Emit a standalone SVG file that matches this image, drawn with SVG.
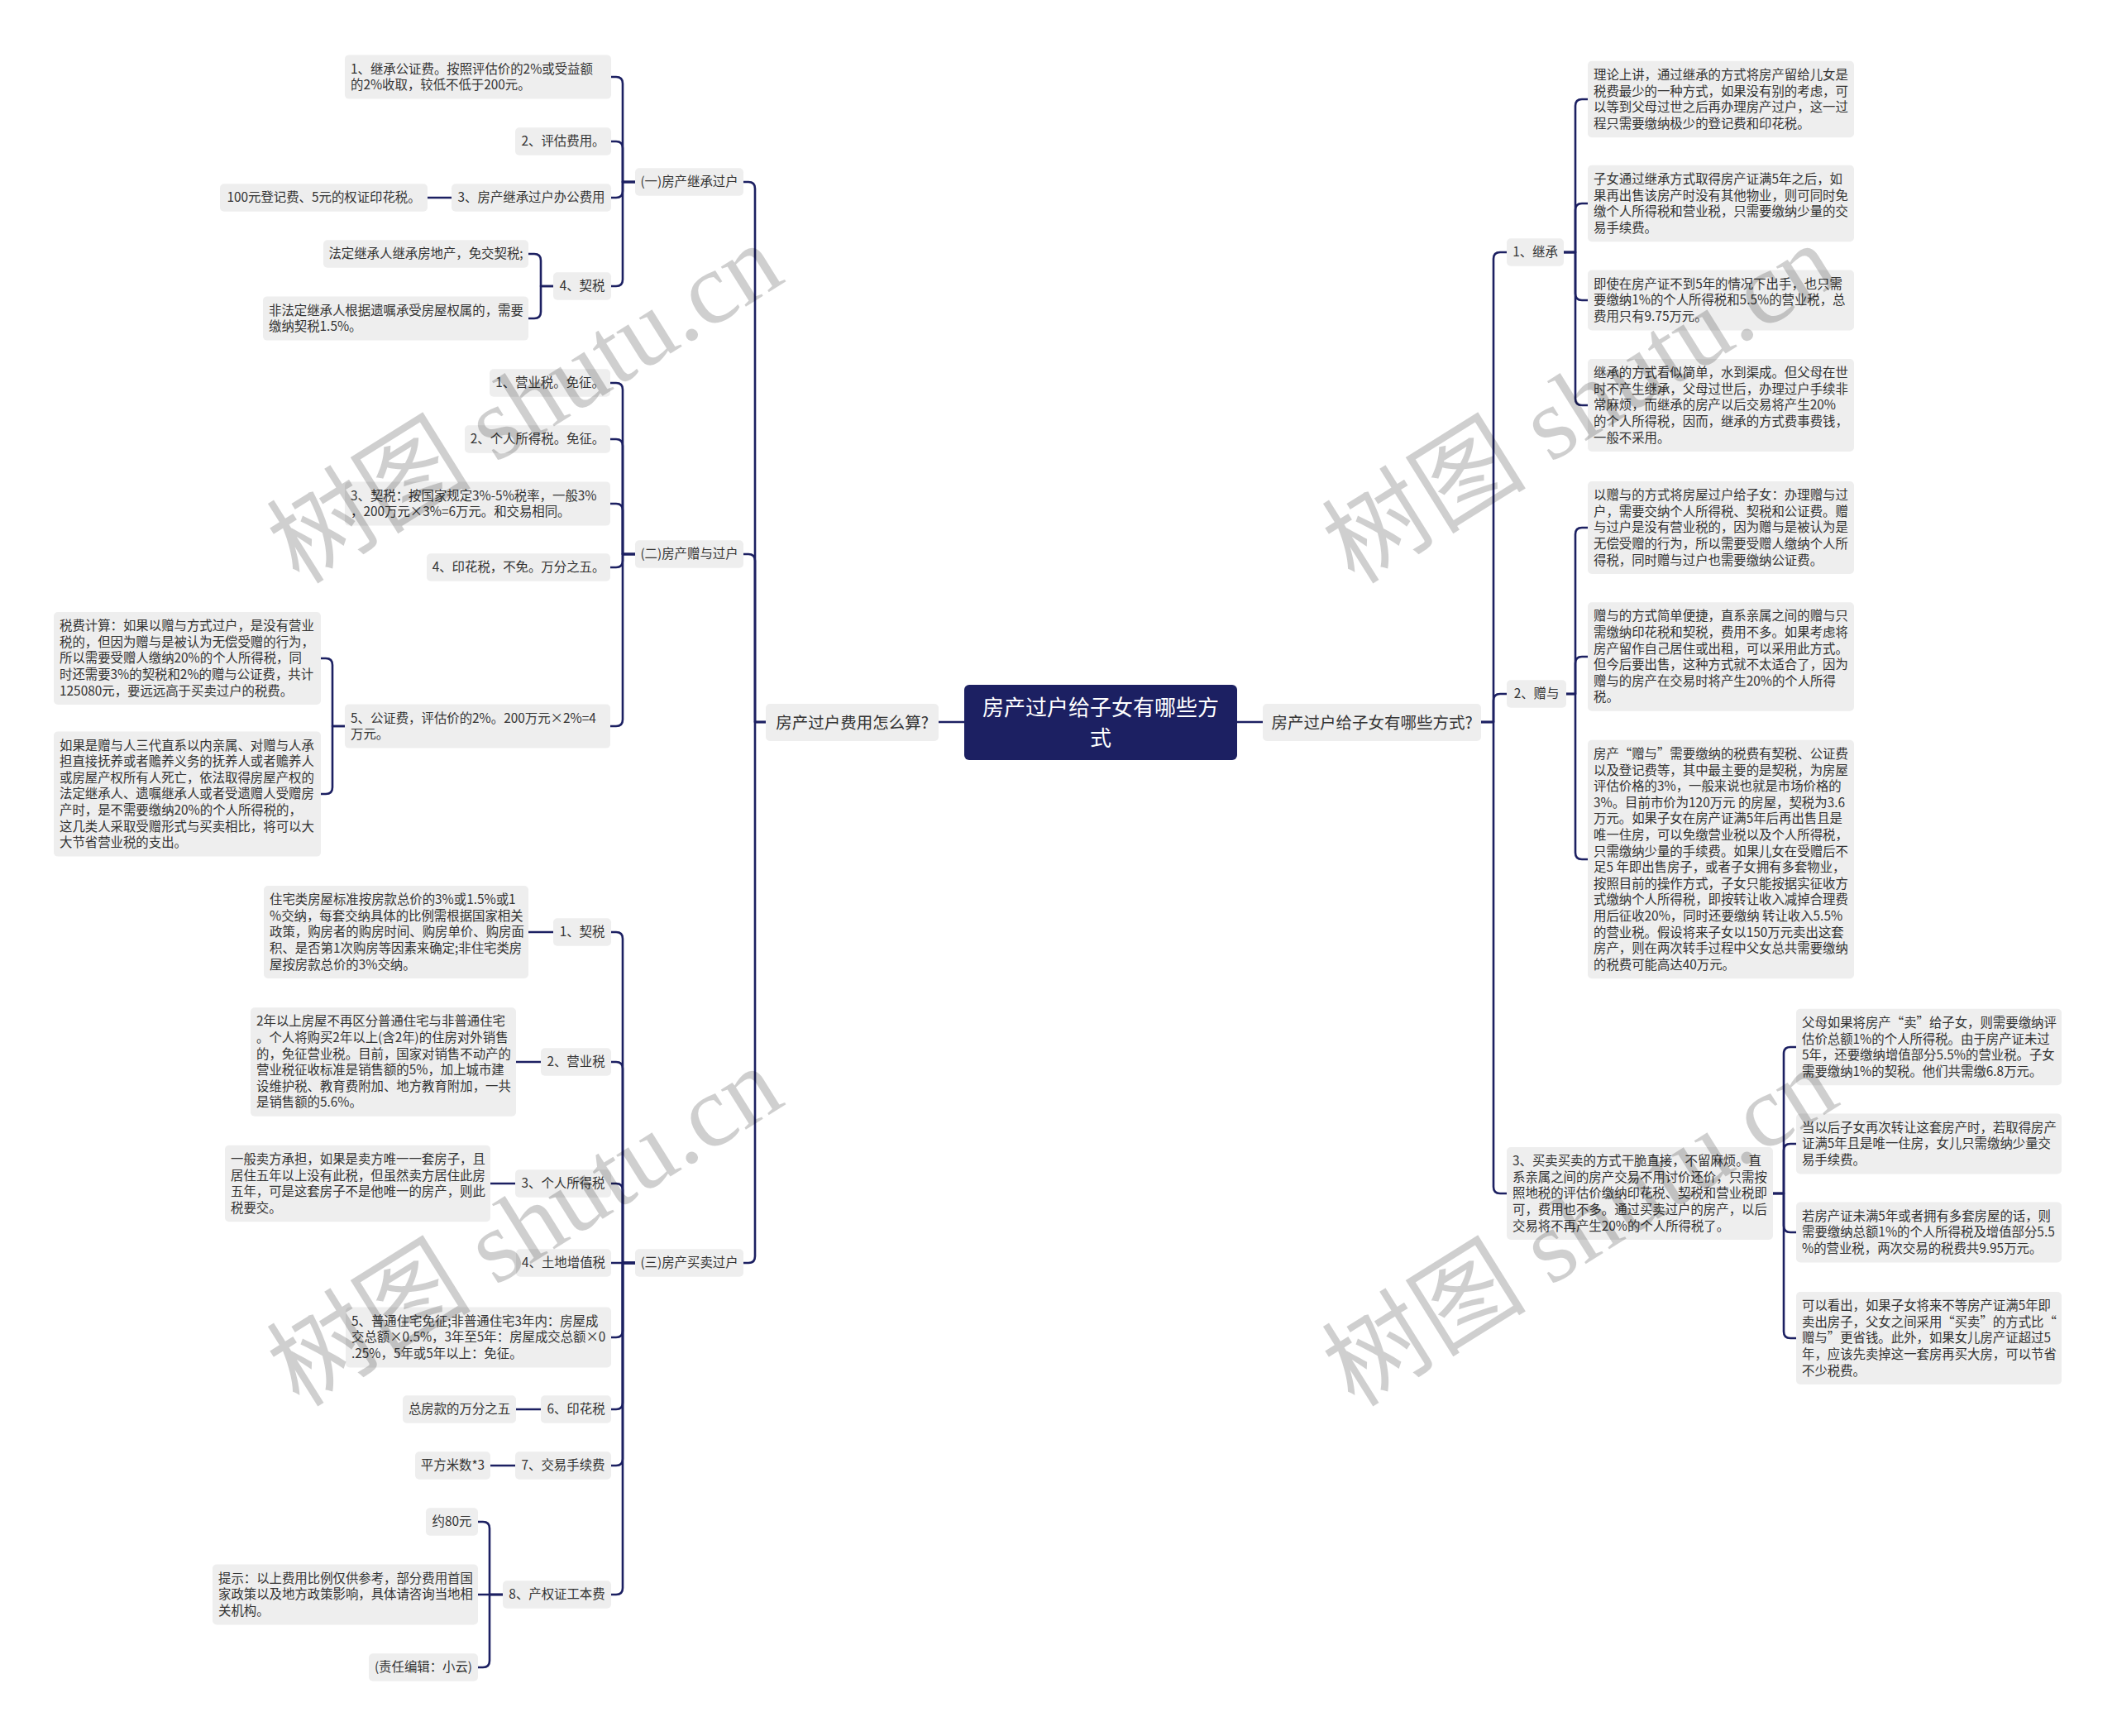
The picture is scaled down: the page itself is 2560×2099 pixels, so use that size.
<svg xmlns="http://www.w3.org/2000/svg" width="2560" height="2099" viewBox="0 0 2560 2099">
<style>
.bg{fill:#ffffff}
.n rect{fill:#eeeeee}
.n text{font-family:"Noto Sans CJK SC","Liberation Sans",sans-serif;font-size:15.4px;fill:#333333}
.c{text-anchor:middle}
.l1 rect{fill:#eeeeee}
.l1 text{font-family:"Noto Sans CJK SC","Liberation Sans",sans-serif;font-size:19.5px;fill:#333333;text-anchor:middle}
.root rect{fill:#1c2062}
.root text{font-family:"Noto Sans CJK SC","Liberation Sans",sans-serif;font-size:26px;fill:#ffffff;text-anchor:middle}
#links path{fill:none;stroke:#1c2062;stroke-width:2.6;stroke-linecap:round;stroke-linejoin:round}
.wm{font-family:"Liberation Serif","Noto Sans CJK SC",serif;font-size:124px;fill:#000000;fill-opacity:0.19}
</style>
<rect class="bg" x="0" y="0" width="2560" height="2099"/>
<g id="links">
<path d="M1166 873 H1135"/>
<path d="M1496 873 H1527"/>
<path d="M926 873 H913 V228 Q913 220 905 220 H899"/>
<path d="M926 873 H913 V678 Q913 670 905 670 H899"/>
<path d="M926 873 H913 V1519 Q913 1527 905 1527 H899"/>
<path d="M768 220 H753 V101 Q753 93 745 93 H739"/>
<path d="M768 220 H753 V179 Q753 171 745 171 H739"/>
<path d="M768 220 H753 V231 Q753 239 745 239 H739"/>
<path d="M768 220 H753 V338 Q753 346 745 346 H739"/>
<path d="M546 239 H517"/>
<path d="M669 346 H654 V315 Q654 307 646 307 H639"/>
<path d="M669 346 H654 V377 Q654 385 646 385 H639"/>
<path d="M768 670 H753 V471 Q753 463 745 463 H738"/>
<path d="M768 670 H753 V539 Q753 531 745 531 H738"/>
<path d="M768 670 H753 V617 Q753 609 745 609 H738"/>
<path d="M768 670 H753 V678 Q753 686 745 686 H738"/>
<path d="M768 670 H753 V870 Q753 878 745 878 H738"/>
<path d="M417 878 H402 V804 Q402 796 394 796 H388"/>
<path d="M417 878 H402 V952 Q402 960 394 960 H388"/>
<path d="M768 1527 H753 V1135 Q753 1127 745 1127 H739"/>
<path d="M768 1527 H753 V1292 Q753 1284 745 1284 H739"/>
<path d="M768 1527 H753 V1439 Q753 1431 745 1431 H739"/>
<path d="M768 1527 H739"/>
<path d="M768 1527 H753 V1609 Q753 1617 745 1617 H739"/>
<path d="M768 1527 H753 V1696 Q753 1704 745 1704 H739"/>
<path d="M768 1527 H753 V1764 Q753 1772 745 1772 H739"/>
<path d="M768 1527 H753 V1920 Q753 1928 745 1928 H739"/>
<path d="M669 1127 H639"/>
<path d="M654 1284 H624"/>
<path d="M623 1431 H593"/>
<path d="M654 1704 H624"/>
<path d="M623 1772 H593"/>
<path d="M608 1928 H592 V1848 Q592 1840 584 1840 H578"/>
<path d="M608 1928 H578"/>
<path d="M608 1928 H592 V2008 Q592 2016 584 2016 H578"/>
<path d="M1791 873 H1806 V313 Q1806 305 1814 305 H1822"/>
<path d="M1791 873 H1806 V847 Q1806 839 1814 839 H1822"/>
<path d="M1791 873 H1806 V1435 Q1806 1443 1814 1443 H1822"/>
<path d="M1891 305 H1905 V128 Q1905 120 1913 120 H1920"/>
<path d="M1891 305 H1905 V254 Q1905 246 1913 246 H1920"/>
<path d="M1891 305 H1905 V355 Q1905 363 1913 363 H1920"/>
<path d="M1891 305 H1905 V482 Q1905 490 1913 490 H1920"/>
<path d="M1894 839 H1905 V646 Q1905 638 1913 638 H1920"/>
<path d="M1894 839 H1905 V802 Q1905 794 1913 794 H1920"/>
<path d="M1894 839 H1905 V1031 Q1905 1039 1913 1039 H1920"/>
<path d="M2144 1443 H2157 V1274 Q2157 1266 2165 1266 H2172"/>
<path d="M2144 1443 H2157 V1391 Q2157 1383 2165 1383 H2172"/>
<path d="M2144 1443 H2157 V1482 Q2157 1490 2165 1490 H2172"/>
<path d="M2144 1443 H2157 V1610 Q2157 1618 2165 1618 H2172"/>
</g>

<g id="root" class="root"><rect x="1166" y="828" width="330" height="91" rx="6"/><text x="1331" y="864.6">房产过户给子女有哪些方</text><text x="1331" y="901.6">式</text></g>
<g id="l1-left" class="l1"><rect x="926" y="851" width="209" height="45" rx="5"/><text x="1030.5" y="880.5">房产过户费用怎么算?</text></g>
<g id="l1-right" class="l1"><rect x="1527" y="851" width="264" height="45" rx="5"/><text x="1659" y="880.5">房产过户给子女有哪些方式?</text></g>

<g id="n-yi" class="n"><rect x="768" y="203.2" width="131" height="33.6" rx="5"/><text class="c" x="833.5" y="225.4">(一)房产继承过户</text></g>
<g id="n-er" class="n"><rect x="768" y="653.2" width="131" height="33.6" rx="5"/><text class="c" x="833.5" y="675.4">(二)房产赠与过户</text></g>
<g id="n-san" class="n"><rect x="768" y="1510.2" width="131" height="33.6" rx="5"/><text class="c" x="833.5" y="1532.4">(三)房产买卖过户</text></g>

<g id="a1" class="n"><rect x="417" y="66.4" width="322" height="53.2" rx="5"/><text x="424" y="88.6">1、继承公证费。按照评估价的2%或受益额<tspan x="424" dy="19.6">的2%收取，较低不低于200元。</tspan></text></g>
<g id="a2" class="n"><rect x="623" y="154.2" width="116" height="33.6" rx="5"/><text class="c" x="681" y="176.4">2、评估费用。</text></g>
<g id="a3" class="n"><rect x="546" y="222.2" width="193" height="33.6" rx="5"/><text class="c" x="642.5" y="244.4">3、房产继承过户办公费用</text></g>
<g id="a3a" class="n"><rect x="266" y="222.2" width="251" height="33.6" rx="5"/><text class="c" x="391.5" y="244.4">100元登记费、5元的权证印花税。</text></g>
<g id="a4" class="n"><rect x="669" y="329.2" width="70" height="33.6" rx="5"/><text class="c" x="704" y="351.4">4、契税</text></g>
<g id="a4a" class="n"><rect x="391" y="290.2" width="248" height="33.6" rx="5"/><text class="c" x="515" y="312.4">法定继承人继承房地产，免交契税;</text></g>
<g id="a4b" class="n"><rect x="318" y="358.4" width="321" height="53.2" rx="5"/><text x="325" y="380.6">非法定继承人根据遗嘱承受房屋权属的，需要<tspan x="325" dy="19.6">缴纳契税1.5%。</tspan></text></g>

<g id="b1" class="n"><rect x="592" y="446.2" width="146" height="33.6" rx="5"/><text class="c" x="665" y="468.4">1、营业税。免征。</text></g>
<g id="b2" class="n"><rect x="562" y="514.2" width="176" height="33.6" rx="5"/><text class="c" x="650" y="536.4">2、个人所得税。免征。</text></g>
<g id="b3" class="n"><rect x="417" y="582.4" width="321" height="53.2" rx="5"/><text x="424" y="604.6">3、契税：按国家规定3%-5%税率，一般3%<tspan x="424" dy="19.6">，200万元×3%=6万元。和交易相同。</tspan></text></g>
<g id="b4" class="n"><rect x="516" y="669.2" width="222" height="33.6" rx="5"/><text class="c" x="627" y="691.4">4、印花税，不免。万分之五。</text></g>
<g id="b5" class="n"><rect x="417" y="851.4" width="321" height="53.2" rx="5"/><text x="424" y="873.6">5、公证费，评估价的2%。200万元×2%=4<tspan x="424" dy="19.6">万元。</tspan></text></g>
<g id="b5a" class="n"><rect x="65" y="740" width="323" height="112" rx="5"/><text x="72" y="762.2">税费计算：如果以赠与方式过户，是没有营业<tspan x="72" dy="19.6">税的，但因为赠与是被认为无偿受赠的行为，</tspan><tspan x="72" dy="19.6">所以需要受赠人缴纳20%的个人所得税，同</tspan><tspan x="72" dy="19.6">时还需要3%的契税和2%的赠与公证费，共计</tspan><tspan x="72" dy="19.6">125080元，要远远高于买卖过户的税费。</tspan></text></g>
<g id="b5b" class="n"><rect x="65" y="884.4" width="323" height="151.2" rx="5"/><text x="72" y="906.6">如果是赠与人三代直系以内亲属、对赠与人承<tspan x="72" dy="19.6">担直接抚养或者赡养义务的抚养人或者赡养人</tspan><tspan x="72" dy="19.6">或房屋产权所有人死亡，依法取得房屋产权的</tspan><tspan x="72" dy="19.6">法定继承人、遗嘱继承人或者受遗赠人受赠房</tspan><tspan x="72" dy="19.6">产时，是不需要缴纳20%的个人所得税的，</tspan><tspan x="72" dy="19.6">这几类人采取受赠形式与买卖相比，将可以大</tspan><tspan x="72" dy="19.6">大节省营业税的支出。</tspan></text></g>

<g id="c1" class="n"><rect x="669" y="1110.2" width="70" height="33.6" rx="5"/><text class="c" x="704" y="1132.4">1、契税</text></g>
<g id="c1a" class="n"><rect x="319" y="1071" width="320" height="112" rx="5"/><text x="326" y="1093.2">住宅类房屋标准按房款总价的3%或1.5%或1<tspan x="326" dy="19.6">%交纳，每套交纳具体的比例需根据国家相关</tspan><tspan x="326" dy="19.6">政策，购房者的购房时间、购房单价、购房面</tspan><tspan x="326" dy="19.6">积、是否第1次购房等因素来确定;非住宅类房</tspan><tspan x="326" dy="19.6">屋按房款总价的3%交纳。</tspan></text></g>
<g id="c2" class="n"><rect x="654" y="1267.2" width="85" height="33.6" rx="5"/><text class="c" x="696.5" y="1289.4">2、营业税</text></g>
<g id="c2a" class="n"><rect x="303" y="1218.2" width="321" height="131.6" rx="5"/><text x="310" y="1240.4">2年以上房屋不再区分普通住宅与非普通住宅<tspan x="310" dy="19.6">。个人将购买2年以上(含2年)的住房对外销售</tspan><tspan x="310" dy="19.6">的，免征营业税。目前，国家对销售不动产的</tspan><tspan x="310" dy="19.6">营业税征收标准是销售额的5%，加上城市建</tspan><tspan x="310" dy="19.6">设维护税、教育费附加、地方教育附加，一共</tspan><tspan x="310" dy="19.6">是销售额的5.6%。</tspan></text></g>
<g id="c3" class="n"><rect x="623" y="1414.2" width="116" height="33.6" rx="5"/><text class="c" x="681" y="1436.4">3、个人所得税</text></g>
<g id="c3a" class="n"><rect x="272" y="1384.8" width="321" height="92.4" rx="5"/><text x="279" y="1407">一般卖方承担，如果是卖方唯一一套房子，且<tspan x="279" dy="19.6">居住五年以上没有此税，但虽然卖方居住此房</tspan><tspan x="279" dy="19.6">五年，可是这套房子不是他唯一的房产，则此</tspan><tspan x="279" dy="19.6">税要交。</tspan></text></g>
<g id="c4" class="n"><rect x="624" y="1510.2" width="115" height="33.6" rx="5"/><text class="c" x="681.5" y="1532.4">4、土地增值税</text></g>
<g id="c5" class="n"><rect x="418" y="1580.6" width="321" height="72.8" rx="5"/><text x="425" y="1602.8">5、普通住宅免征;非普通住宅3年内：房屋成<tspan x="425" dy="19.6">交总额×0.5%，3年至5年：房屋成交总额×0</tspan><tspan x="425" dy="19.6">.25%，5年或5年以上：免征。</tspan></text></g>
<g id="c6" class="n"><rect x="654" y="1687.2" width="85" height="33.6" rx="5"/><text class="c" x="696.5" y="1709.4">6、印花税</text></g>
<g id="c6a" class="n"><rect x="487" y="1687.2" width="137" height="33.6" rx="5"/><text class="c" x="555.5" y="1709.4">总房款的万分之五</text></g>
<g id="c7" class="n"><rect x="623" y="1755.2" width="116" height="33.6" rx="5"/><text class="c" x="681" y="1777.4">7、交易手续费</text></g>
<g id="c7a" class="n"><rect x="502" y="1755.2" width="91" height="33.6" rx="5"/><text class="c" x="547.5" y="1777.4">平方米数*3</text></g>
<g id="c8" class="n"><rect x="608" y="1911.2" width="131" height="33.6" rx="5"/><text class="c" x="673.5" y="1933.4">8、产权证工本费</text></g>
<g id="c8a" class="n"><rect x="515" y="1823.2" width="63" height="33.6" rx="5"/><text class="c" x="546.5" y="1845.4">约80元</text></g>
<g id="c8b" class="n"><rect x="257" y="1891.6" width="321" height="72.8" rx="5"/><text x="264" y="1913.8">提示：以上费用比例仅供参考，部分费用首国<tspan x="264" dy="19.6">家政策以及地方政策影响，具体请咨询当地相</tspan><tspan x="264" dy="19.6">关机构。</tspan></text></g>
<g id="c8c" class="n"><rect x="446" y="1999.2" width="132" height="33.6" rx="5"/><text class="c" x="512" y="2021.4">(责任编辑：小云)</text></g>

<g id="r1" class="n"><rect x="1822" y="288.2" width="69" height="33.6" rx="5"/><text class="c" x="1856.5" y="310.4">1、继承</text></g>
<g id="r1a" class="n"><rect x="1920" y="73.8" width="322" height="92.4" rx="5"/><text x="1927" y="96">理论上讲，通过继承的方式将房产留给儿女是<tspan x="1927" dy="19.6">税费最少的一种方式，如果没有别的考虑，可</tspan><tspan x="1927" dy="19.6">以等到父母过世之后再办理房产过户，这一过</tspan><tspan x="1927" dy="19.6">程只需要缴纳极少的登记费和印花税。</tspan></text></g>
<g id="r1b" class="n"><rect x="1920" y="199.8" width="322" height="92.4" rx="5"/><text x="1927" y="222">子女通过继承方式取得房产证满5年之后，如<tspan x="1927" dy="19.6">果再出售该房产时没有其他物业，则可同时免</tspan><tspan x="1927" dy="19.6">缴个人所得税和营业税，只需要缴纳少量的交</tspan><tspan x="1927" dy="19.6">易手续费。</tspan></text></g>
<g id="r1c" class="n"><rect x="1920" y="326.6" width="322" height="72.8" rx="5"/><text x="1927" y="348.8">即使在房产证不到5年的情况下出手，也只需<tspan x="1927" dy="19.6">要缴纳1%的个人所得税和5.5%的营业税，总</tspan><tspan x="1927" dy="19.6">费用只有9.75万元。</tspan></text></g>
<g id="r1d" class="n"><rect x="1920" y="434" width="322" height="112" rx="5"/><text x="1927" y="456.2">继承的方式看似简单，水到渠成。但父母在世<tspan x="1927" dy="19.6">时不产生继承，父母过世后，办理过户手续非</tspan><tspan x="1927" dy="19.6">常麻烦，而继承的房产以后交易将产生20%</tspan><tspan x="1927" dy="19.6">的个人所得税，因而，继承的方式费事费钱，</tspan><tspan x="1927" dy="19.6">一般不采用。</tspan></text></g>
<g id="r2" class="n"><rect x="1822" y="822.2" width="72" height="33.6" rx="5"/><text class="c" x="1858" y="844.4">2、赠与</text></g>
<g id="r2a" class="n"><rect x="1920" y="582" width="322" height="112" rx="5"/><text x="1927" y="604.2">以赠与的方式将房屋过户给子女：办理赠与过<tspan x="1927" dy="19.6">户，需要交纳个人所得税、契税和公证费。赠</tspan><tspan x="1927" dy="19.6">与过户是没有营业税的，因为赠与是被认为是</tspan><tspan x="1927" dy="19.6">无偿受赠的行为，所以需要受赠人缴纳个人所</tspan><tspan x="1927" dy="19.6">得税，同时赠与过户也需要缴纳公证费。</tspan></text></g>
<g id="r2b" class="n"><rect x="1920" y="728.2" width="322" height="131.6" rx="5"/><text x="1927" y="750.4">赠与的方式简单便捷，直系亲属之间的赠与只<tspan x="1927" dy="19.6">需缴纳印花税和契税，费用不多。如果考虑将</tspan><tspan x="1927" dy="19.6">房产留作自己居住或出租，可以采用此方式。</tspan><tspan x="1927" dy="19.6">但今后要出售，这种方式就不太适合了，因为</tspan><tspan x="1927" dy="19.6">赠与的房产在交易时将产生20%的个人所得</tspan><tspan x="1927" dy="19.6">税。</tspan></text></g>
<g id="r2c" class="n"><rect x="1920" y="894.8" width="322" height="288.4" rx="5"/><text x="1927" y="917">房产“赠与”需要缴纳的税费有契税、公证费<tspan x="1927" dy="19.6">以及登记费等，其中最主要的是契税，为房屋</tspan><tspan x="1927" dy="19.6">评估价格的3%，一般来说也就是市场价格的</tspan><tspan x="1927" dy="19.6">3%。目前市价为120万元 的房屋，契税为3.6</tspan><tspan x="1927" dy="19.6">万元。如果子女在房产证满5年后再出售且是</tspan><tspan x="1927" dy="19.6">唯一住房，可以免缴营业税以及个人所得税，</tspan><tspan x="1927" dy="19.6">只需缴纳少量的手续费。如果儿女在受赠后不</tspan><tspan x="1927" dy="19.6">足5 年即出售房子，或者子女拥有多套物业，</tspan><tspan x="1927" dy="19.6">按照目前的操作方式，子女只能按据实征收方</tspan><tspan x="1927" dy="19.6">式缴纳个人所得税，即按转让收入减掉合理费</tspan><tspan x="1927" dy="19.6">用后征收20%，同时还要缴纳 转让收入5.5%</tspan><tspan x="1927" dy="19.6">的营业税。假设将来子女以150万元卖出这套</tspan><tspan x="1927" dy="19.6">房产，则在两次转手过程中父女总共需要缴纳</tspan><tspan x="1927" dy="19.6">的税费可能高达40万元。</tspan></text></g>
<g id="r3" class="n"><rect x="1822" y="1387" width="322" height="112" rx="5"/><text x="1829" y="1409.2">3、买卖买卖的方式干脆直接，不留麻烦。直<tspan x="1829" dy="19.6">系亲属之间的房产交易不用讨价还价，只需按</tspan><tspan x="1829" dy="19.6">照地税的评估价缴纳印花税、契税和营业税即</tspan><tspan x="1829" dy="19.6">可，费用也不多。通过买卖过户的房产，以后</tspan><tspan x="1829" dy="19.6">交易将不再产生20%的个人所得税了。</tspan></text></g>
<g id="r3a" class="n"><rect x="2172" y="1219.8" width="321" height="92.4" rx="5"/><text x="2179" y="1242">父母如果将房产“卖”给子女，则需要缴纳评<tspan x="2179" dy="19.6">估价总额1%的个人所得税。由于房产证未过</tspan><tspan x="2179" dy="19.6">5年，还要缴纳增值部分5.5%的营业税。子女</tspan><tspan x="2179" dy="19.6">需要缴纳1%的契税。他们共需缴6.8万元。</tspan></text></g>
<g id="r3b" class="n"><rect x="2172" y="1346.6" width="321" height="72.8" rx="5"/><text x="2179" y="1368.8">当以后子女再次转让这套房产时，若取得房产<tspan x="2179" dy="19.6">证满5年且是唯一住房，女儿只需缴纳少量交</tspan><tspan x="2179" dy="19.6">易手续费。</tspan></text></g>
<g id="r3c" class="n"><rect x="2172" y="1453.6" width="321" height="72.8" rx="5"/><text x="2179" y="1475.8">若房产证未满5年或者拥有多套房屋的话，则<tspan x="2179" dy="19.6">需要缴纳总额1%的个人所得税及增值部分5.5</tspan><tspan x="2179" dy="19.6">%的营业税，两次交易的税费共9.95万元。</tspan></text></g>
<g id="r3d" class="n"><rect x="2172" y="1562" width="321" height="112" rx="5"/><text x="2179" y="1584.2">可以看出，如果子女将来不等房产证满5年即<tspan x="2179" dy="19.6">卖出房子，父女之间采用“买卖”的方式比“</tspan><tspan x="2179" dy="19.6">赠与”更省钱。此外，如果女儿房产证超过5</tspan><tspan x="2179" dy="19.6">年，应该先卖掉这一套房再买大房，可以节省</tspan><tspan x="2179" dy="19.6">不少税费。</tspan></text></g>

<g id="watermarks">
<text class="wm" x="362" y="708" transform="rotate(-32 362 708)">树图 shutu.cn</text>
<text class="wm" x="362" y="1703" transform="rotate(-32 362 1703)">树图 shutu.cn</text>
<text class="wm" x="1638" y="708" transform="rotate(-32 1638 708)">树图 shutu.cn</text>
<text class="wm" x="1638" y="1703" transform="rotate(-32 1638 1703)">树图 shutu.cn</text>
</g>
</svg>
